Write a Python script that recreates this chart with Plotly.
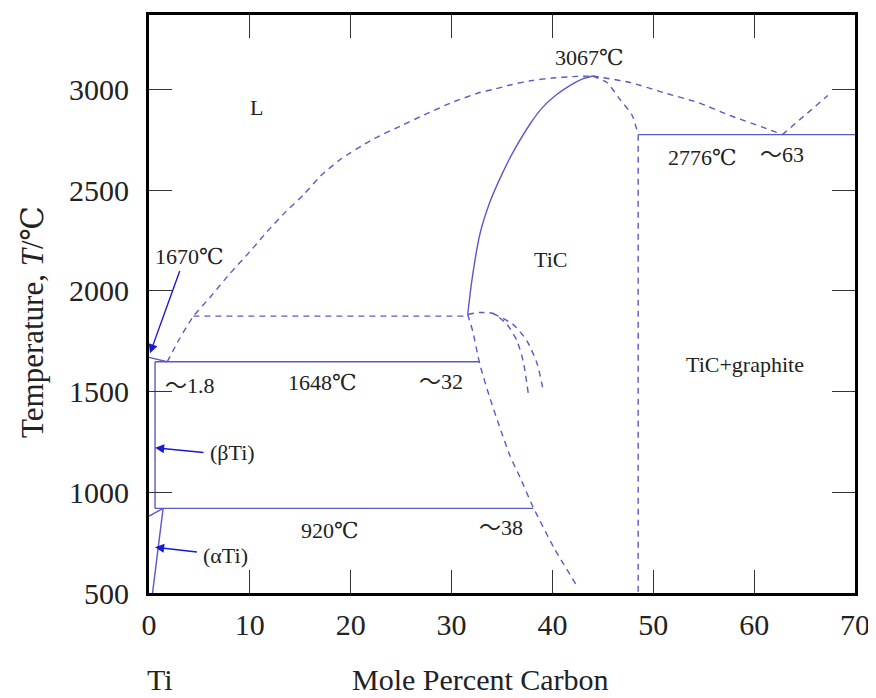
import plotly.graph_objects as go

# ---------------- data (mole % C, temperature in °C) ----------------
liq_ti_x = [1.8, 3.0, 4.4, 6, 8, 10, 11.7, 13.5, 15.3, 17, 19, 22.2, 25, 27.2, 30, 32.8, 34.1, 36, 38, 40, 42, 44]
liq_ti_t = [1648, 1760, 1874, 1965, 2085, 2195, 2294, 2390, 2476, 2570, 2654, 2753, 2820, 2872, 2935, 2985, 3000, 3025, 3045, 3057, 3064, 3067]

liq_tic_x = [44, 45.4, 46.7, 47.9, 48.5]
liq_tic_t = [3067, 3035, 2951, 2872, 2776]

liq_c_x = [44, 45, 47.7, 51, 54.4, 57.6, 60.9, 62.8]
liq_c_t = [3067, 3059, 3035, 2985, 2936, 2871, 2812, 2776]

liq_c2_x = [62.8, 67.3]
liq_c2_t = [2776, 2970]

sol_tic_x = [31.6, 32.0, 32.8, 33.8, 35.0, 36.1, 37.8, 39.0, 40.3, 41.8, 43.0, 44.0]
sol_tic_t = [1883, 2047, 2280, 2441, 2580, 2689, 2830, 2910, 2970, 3022, 3053, 3067]

tic_low_x = [31.6, 32.1, 32.8, 33.8, 34.8, 35.8, 36.8, 38.1, 40.2, 42.5]
tic_low_t = [1883, 1800, 1636, 1468, 1320, 1180, 1073, 925, 720, 530]

dash_1875_x = [4.4, 31.6]
dash_1875_t = [1875, 1875]

curve_a_x = [31.6, 32.8, 34.1, 35.5, 36.5, 37.1, 37.6]
curve_a_t = [1883, 1893, 1888, 1834, 1750, 1651, 1493]
curve_b_x = [34.1, 36.1, 37.5, 38.5, 39.1]
curve_b_t = [1888, 1834, 1750, 1636, 1503]

eut_2776_x = [48.5, 70]
eut_2776_t = [2776, 2776]
tic_c_x = [48.5, 48.5]
tic_c_t = [2776, 500]

eut_1648_x = [0.6, 32.8]
eut_1648_t = [1648, 1648]
eut_920_x = [0.6, 38.1]
eut_920_t = [920, 920]

ti_sol_x = [0, 1.8]
ti_sol_t = [1670, 1648]
beta_x = [0.6, 0.6]
beta_t = [1648, 920]
ab_x = [0, 1.4]
ab_t = [882, 920]
alpha_x = [1.4, 0.35]
alpha_t = [920, 500]

x_ticks = [0, 10, 20, 30, 40, 50, 60, 70]
y_ticks = [500, 1000, 1500, 2000, 2500, 3000]

TILDE = "<span style='font-family:Noto Sans CJK SC'>～</span>"

labels = [
    ("L", 10.7, 2911),
    ("3067℃", 43.7, 3158),
    ("2776℃", 54.9, 2664),
    (TILDE + "63", 62.8, 2689),
    ("TiC", 39.8, 2155),
    ("TiC+graphite", 59.1, 1637),
    ("1670℃", 4.0, 2170),
    (TILDE + "1.8", 4.1, 1543),
    ("1648℃", 17.2, 1543),
    (TILDE + "32", 29.0, 1562),
    ("920℃", 17.9, 811),
    (TILDE + "38", 34.9, 836),
    ("(βTi)", 8.3, 1197),
    ("(αTi)", 7.6, 688),
]

# arrows: (head x, head T, tail x, tail T)
arrows = [
    (0.1, 1690, 3.1, 2106),
    (0.6, 1221, 5.55, 1197),
    (0.6, 727, 4.9, 703),
]

LINE = "#5a5ac6"
FONT = "Liberation Serif, DejaVu Serif, Times New Roman, serif"

fig = go.Figure()

def add(x, y, dash):
    fig.add_trace(go.Scatter(
        x=x, y=y, mode="lines",
        line=dict(color=LINE, width=1.4, dash="6px,5px" if dash else "solid",
                  shape="spline" if len(x) > 2 else "linear", smoothing=0.6),
        hoverinfo="skip", showlegend=False))

for xs, ts in [(liq_ti_x, liq_ti_t), (liq_tic_x, liq_tic_t), (liq_c_x, liq_c_t),
               (liq_c2_x, liq_c2_t), (tic_low_x, tic_low_t), (dash_1875_x, dash_1875_t),
               (curve_a_x, curve_a_t), (curve_b_x, curve_b_t), (tic_c_x, tic_c_t)]:
    add(xs, ts, True)

for xs, ts in [(sol_tic_x, sol_tic_t), (eut_2776_x, eut_2776_t), (eut_1648_x, eut_1648_t),
               (eut_920_x, eut_920_t), (ti_sol_x, ti_sol_t), (beta_x, beta_t),
               (ab_x, ab_t), (alpha_x, alpha_t)]:
    add(xs, ts, False)

for txt, x, t in labels:
    fig.add_annotation(x=x, y=t, text=txt, showarrow=False,
                       font=dict(family=FONT, size=22, color="#222"))

for hx, ht, tx, tt in arrows:
    fig.add_annotation(x=hx, y=ht, ax=tx, ay=tt, axref="x", ayref="y",
                       text="", showarrow=True, arrowhead=2, arrowsize=1.3,
                       arrowwidth=1.4, arrowcolor="#1a1ad0")

# axis titles and Ti label
fig.add_annotation(x=0.469, y=-0.150, xref="paper", yref="paper",
                   xanchor="center", yanchor="middle",
                   text="Mole Percent Carbon", showarrow=False,
                   font=dict(family=FONT, size=30, color="#222"))
fig.add_annotation(x=0.016, y=-0.150, xref="paper", yref="paper",
                   xanchor="center", yanchor="middle",
                   text="Ti", showarrow=False,
                   font=dict(family=FONT, size=30, color="#222"))
fig.add_annotation(x=-0.165, y=0.468, xref="paper", yref="paper",
                   xanchor="center", yanchor="middle",
                   text="Temperature, <i>T</i>/℃", showarrow=False, textangle=-90,
                   font=dict(family=FONT, size=31, color="#222"))

axis_common = dict(showgrid=False, zeroline=False, showline=True, linewidth=3,
                   linecolor="black", mirror="allticks", ticks="inside",
                   ticklen=23, tickwidth=1.3, tickcolor="#333",
                   tickfont=dict(family=FONT, size=30, color="#222"))

fig.update_xaxes(range=[0, 70], tickvals=x_ticks, ticklabelstandoff=3, **axis_common)
fig.update_yaxes(range=[500, 3370], tickvals=y_ticks, ticklabelstandoff=11, **axis_common)

fig.update_layout(width=868, height=690,
                  margin=dict(l=141, r=21, t=4, b=105),
                  plot_bgcolor="white", paper_bgcolor="white")

fig.write_html("out.html")
